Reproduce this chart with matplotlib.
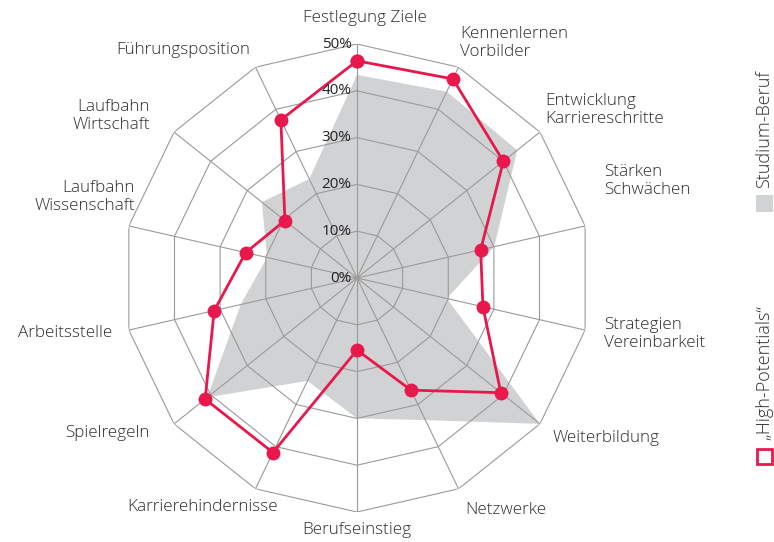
import numpy as np
import matplotlib
matplotlib.use('Agg')
import matplotlib.pyplot as plt
from matplotlib.patches import Rectangle

plt.rcParams['font.family'] = ['Open Sans', 'DejaVu Sans']

categories = ['Festlegung Ziele', 'Kennenlernen\nVorbilder', 'Entwicklung\nKarriereschritte',
              'Stärken\nSchwächen', 'Strategien\nVereinbarkeit', 'Weiterbildung', 'Netzwerke',
              'Berufseinstieg', 'Karrierehindernisse', 'Spielregeln', 'Arbeitsstelle',
              'Laufbahn\nWissenschaft', 'Laufbahn\nWirtschaft', 'Führungsposition']
studium_beruf = [43.4, 44.2, 43.8, 30.1, 19.7, 50.0, 33.7, 30.0, 24.4, 40.9, 25.5, 19.7, 26.0, 23.5]
high_potentials = [46.4, 47.2, 40.0, 27.1, 27.6, 39.3, 26.6, 15.4, 41.4, 41.5, 31.3, 24.4, 19.7, 37.5]
rings = [10, 20, 30, 40, 50]
ring_labels = ['10%', '20%', '30%', '40%', '50%']

# label anchor in figure pixels (x, y from top) and alignment
label_pos = [(365, 18, 'center'), (460, 43, 'left'), (545, 110, 'left'), (604, 181, 'left'),
             (604, 334, 'left'), (553, 438, 'left'), (465, 510, 'left'), (357, 530, 'center'),
             (278, 507, 'right'), (150, 433, 'right'), (112, 333, 'right'), (135, 197, 'right'),
             (150, 116, 'right'), (250, 50, 'right')]

RED = '#e8184c'
GREY = '#d1d2d4'
GRID = '#9a9a9a'
TXT = '#2e2e2e'

W, H = 774, 542
fig = plt.figure(figsize=(W / 100, H / 100), dpi=100)
ax = fig.add_axes([123 / W, 30 / H, 468 / W, 468 / H], projection='polar')
ax.set_theta_offset(np.pi / 2)
ax.set_theta_direction(-1)
ax.set_ylim(0, 50)
ax.grid(False)
ax.set_xticks([])
ax.set_yticks([])
ax.spines['polar'].set_visible(False)
ax.patch.set_alpha(0)

n = len(categories)
theta = np.arange(n) * 2 * np.pi / n
theta_c = np.append(theta, theta[0])

ax.fill(theta_c, studium_beruf + studium_beruf[:1], color=GREY, lw=0, zorder=1)

for r in rings:
    ax.plot(theta_c, [r] * (n + 1), color=GRID, lw=0.8, zorder=2)
for t in theta:
    ax.plot([t, t], [0, 50], color=GRID, lw=0.8, zorder=2)

ax.plot(theta_c, high_potentials + high_potentials[:1], color=RED, lw=2.0, zorder=3,
        marker='o', markersize=10, markeredgewidth=0)

for r, lab in zip([0] + rings, ['0%'] + ring_labels):
    ax.annotate(lab, xy=(0, r), xytext=(-4, 0), textcoords='offset points',
                ha='right', va='center', fontsize=11, color='#222222', zorder=4)

for lab, (x, y, ha) in zip(categories, label_pos):
    fig.text(x / W, 1 - y / H, lab, ha=ha, va='center', multialignment=ha,
             fontsize=12.3, color=TXT, fontweight='light', linespacing=1.15)

# legend, rotated
fig.text(764 / W, 1 - 188 / H, 'Studium-Beruf', rotation=90, ha='center', va='bottom',
         fontsize=13, color=TXT, fontweight='light')
fig.add_artist(Rectangle((756 / W, 1 - 212 / H), 17 / W, 17 / H, transform=fig.transFigure,
                         facecolor=GREY, edgecolor='none'))
fig.text(764 / W, 1 - 440 / H, '\u201eHigh-Potentials\u201c', rotation=90, ha='center', va='bottom',
         fontsize=13, color=TXT, fontweight='light')
fig.add_artist(Rectangle((757 / W, 1 - 464 / H), 15 / W, 15 / H, transform=fig.transFigure,
                         facecolor='white', edgecolor=RED, lw=2))

fig.savefig('out.png', dpi=100)
